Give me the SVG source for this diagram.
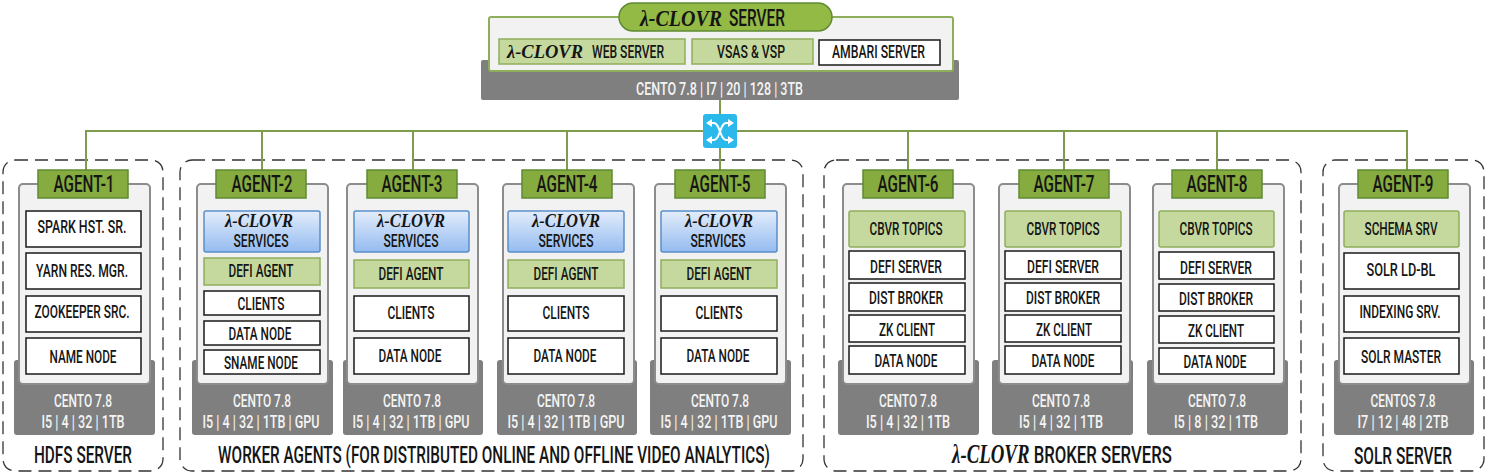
<svg xmlns="http://www.w3.org/2000/svg" width="1486" height="474" viewBox="0 0 1486 474">
<style>
text{font-family:"Roboto","Liberation Sans",sans-serif;font-weight:500;text-anchor:middle;fill:#151515;font-size:18px}
.w{fill:#f4f4f4;font-size:18px}
.h{font-size:23px}
.g{font-size:24px}
.l{font-family:"Liberation Serif","DejaVu Serif",serif;font-style:italic;font-weight:700;font-size:18px}
.base{fill:#7f7f7f}
.card{fill:#f2f2f2;stroke:#8c8c8c;stroke-width:2}
.hdr{fill:#86ab3f;stroke:#5f8a35;stroke-width:1.5}
.box{fill:#fff;stroke:#1a1a1a;stroke-width:1.5}
.grn{fill:#c5d99f;stroke:#8fae5b;stroke-width:1.5}
.blu{fill:url(#bg);stroke:#5b8ec9;stroke-width:1.5}
.frame{fill:#fff;stroke:#333;stroke-width:1.3;stroke-dasharray:13 7}
.link{fill:none;stroke:#7f9b4e;stroke-width:2}
</style>
<defs>
<linearGradient id="bg" x1="0" y1="0" x2="0" y2="1"><stop offset="0" stop-color="#e3edfb"/><stop offset="1" stop-color="#94bbf0"/></linearGradient>
</defs>
<rect width="1486" height="474" fill="#fff"/>
<g id="frames">
<rect class="frame" x="3" y="160" width="160" height="311" rx="12"/>
<rect class="frame" x="180" y="160" width="623" height="311" rx="12"/>
<rect class="frame" x="824" y="160" width="477" height="311" rx="12"/>
<rect class="frame" x="1323" y="160" width="161" height="311" rx="12"/>
<text class="g" transform="translate(83 463) scale(.66 1)" textLength="148.500" lengthAdjust="spacingAndGlyphs">HDFS SERVER</text>
<text class="g" transform="translate(494 463) scale(.66 1)" textLength="836" lengthAdjust="spacingAndGlyphs">WORKER AGENTS (FOR DISTRIBUTED ONLINE AND OFFLINE VIDEO ANALYTICS)</text>
<text class="g" transform="translate(1062 463) scale(.66 1)" textLength="333" lengthAdjust="spacingAndGlyphs"><tspan class="l" style="font-size:27px">λ-CLOVR</tspan> BROKER SERVERS</text>
<text class="g" transform="translate(1403 464) scale(.66 1)" textLength="148.500" lengthAdjust="spacingAndGlyphs">SOLR SERVER</text>
</g>
<g id="connectors">
<path class="link" d="M86 171V131H1407V171M262 131V171M413 131V171M567 131V171M720 100V171M908 131V171M1064 131V171M1217 131V171"/>
</g>
<g id="switch">
<rect x="703" y="114" width="34" height="34" rx="3" fill="#2bb8ea"/>
<path d="M710 123H714C720 123 720 140 726 140H730M710 140H714C720 140 720 123 726 123H730" fill="none" stroke="#fff" stroke-width="2"/>
<path d="M706 123l6-4v8zM734 123l-6-4v8zM706 140l6-4v8zM734 140l-6-4v8z" fill="#fff"/>
</g>
<g id="server">
<rect class="base" x="481" y="60" width="478" height="40" rx="2"/>
<rect class="card" x="489" y="17" width="464" height="54" rx="2" style="stroke:#8fae5b"/>
<rect x="619" y="3" width="213" height="28" rx="14" fill="#93ba45" stroke="#5f8a35" stroke-width="1.5"/>
<text class="l" x="681" y="26" textLength="82" lengthAdjust="spacingAndGlyphs" style="font-size:23px">λ-CLOVR</text>
<text class="h" x="757" y="26" textLength="56" lengthAdjust="spacingAndGlyphs">SERVER</text>
<rect class="grn" x="499" y="39" width="186" height="25"/>
<text class="l" x="545" y="58" textLength="76" lengthAdjust="spacingAndGlyphs" style="font-size:19px">λ-CLOVR</text>
<text x="628" y="58" textLength="72" lengthAdjust="spacingAndGlyphs">WEB SERVER</text>
<rect class="grn" x="692" y="39" width="121" height="25"/>
<text x="751" y="58" textLength="68" lengthAdjust="spacingAndGlyphs">VSAS &amp; VSP</text>
<rect class="box" x="819" y="40" width="121" height="25"/>
<text x="878.500" y="58" textLength="93" lengthAdjust="spacingAndGlyphs">AMBARI SERVER</text>
<text class="w" x="719.500" y="95" textLength="167" lengthAdjust="spacingAndGlyphs">CENTO 7.8 | I7 | 20 | 128 | 3TB</text>
</g>
<g id="agent-1">
<rect class="base" x="14" y="360" width="141" height="75" rx="3"/><rect class="card" x="19" y="184" width="131" height="200" rx="4"/>
<rect class="hdr" x="38" y="170" width="90" height="28"/><text class="h" x="84" y="192" textLength="61" lengthAdjust="spacingAndGlyphs">AGENT-1</text>
<rect class="box" x="26" y="211" width="115" height="36"/><text x="82" y="233" textLength="89" lengthAdjust="spacingAndGlyphs">SPARK HST. SR.</text>
<rect class="box" x="26" y="253" width="115" height="36"/><text x="82" y="277" textLength="92" lengthAdjust="spacingAndGlyphs">YARN RES. MGR.</text>
<rect class="box" x="26" y="296" width="115" height="36"/><text x="82" y="318" textLength="95" lengthAdjust="spacingAndGlyphs">ZOOKEEPER SRC.</text>
<rect class="box" x="26" y="338" width="115" height="36"/><text x="83" y="363" textLength="67" lengthAdjust="spacingAndGlyphs">NAME NODE</text>
<text class="w" x="83" y="407" textLength="58" lengthAdjust="spacingAndGlyphs">CENTO 7.8</text><text class="w" x="83" y="428" textLength="83" lengthAdjust="spacingAndGlyphs">I5 | 4 | 32 | 1TB</text>
</g>
<g id="agent-2">
<rect class="base" x="192" y="360" width="141" height="75" rx="3"/><rect class="card" x="197" y="184" width="131" height="200" rx="4"/>
<rect class="hdr" x="216" y="170" width="90" height="28"/><text class="h" x="262" y="192" textLength="61" lengthAdjust="spacingAndGlyphs">AGENT-2</text>
<rect class="blu" x="204" y="211" width="116" height="41" rx="2"/><text class="l" x="259" y="227" textLength="68" lengthAdjust="spacingAndGlyphs">λ-CLOVR</text><text x="261" y="247" textLength="55" lengthAdjust="spacingAndGlyphs">SERVICES</text>
<rect class="grn" x="204" y="258" width="116" height="27"/><text x="261" y="277" textLength="65" lengthAdjust="spacingAndGlyphs">DEFI AGENT</text>
<rect class="box" x="204" y="291" width="116" height="24"/><text x="261" y="310" textLength="47" lengthAdjust="spacingAndGlyphs">CLIENTS</text>
<rect class="box" x="204" y="321" width="116" height="24"/><text x="260" y="340" textLength="63" lengthAdjust="spacingAndGlyphs">DATA NODE</text>
<rect class="box" x="204" y="350" width="116" height="24"/><text x="261" y="369" textLength="74" lengthAdjust="spacingAndGlyphs">SNAME NODE</text>
<text class="w" x="262" y="407" textLength="58" lengthAdjust="spacingAndGlyphs">CENTO 7.8</text><text class="w" transform="translate(261 428) scale(.7 1)" textLength="167" lengthAdjust="spacingAndGlyphs">I5 | 4 | 32 | 1TB | GPU</text>
</g>
<g id="agent-3">
<rect class="base" x="343" y="360" width="140" height="75" rx="3"/><rect class="card" x="347" y="184" width="131" height="200" rx="4"/>
<rect class="hdr" x="367" y="170" width="90" height="28"/><text class="h" x="412" y="192" textLength="61" lengthAdjust="spacingAndGlyphs">AGENT-3</text>
<rect class="blu" x="354" y="211" width="115" height="41" rx="2"/><text class="l" x="411" y="227" textLength="68" lengthAdjust="spacingAndGlyphs">λ-CLOVR</text><text x="411" y="247" textLength="55" lengthAdjust="spacingAndGlyphs">SERVICES</text>
<rect class="grn" x="354" y="260" width="115" height="28"/><text x="411" y="280" textLength="65" lengthAdjust="spacingAndGlyphs">DEFI AGENT</text>
<rect class="box" x="354" y="296" width="115" height="35"/><text x="411" y="319" textLength="47" lengthAdjust="spacingAndGlyphs">CLIENTS</text>
<rect class="box" x="354" y="338" width="115" height="36"/><text x="410" y="362" textLength="63" lengthAdjust="spacingAndGlyphs">DATA NODE</text>
<text class="w" x="412" y="407" textLength="58" lengthAdjust="spacingAndGlyphs">CENTO 7.8</text><text class="w" transform="translate(411 428) scale(.7 1)" textLength="167" lengthAdjust="spacingAndGlyphs">I5 | 4 | 32 | 1TB | GPU</text>
</g>
<g id="agent-4">
<rect class="base" x="497" y="360" width="140" height="75" rx="3"/><rect class="card" x="503" y="184" width="131" height="200" rx="4"/>
<rect class="hdr" x="522" y="170" width="90" height="28"/><text class="h" x="567" y="192" textLength="61" lengthAdjust="spacingAndGlyphs">AGENT-4</text>
<rect class="blu" x="508" y="211" width="116" height="41" rx="2"/><text class="l" x="566" y="227" textLength="68" lengthAdjust="spacingAndGlyphs">λ-CLOVR</text><text x="566" y="247" textLength="55" lengthAdjust="spacingAndGlyphs">SERVICES</text>
<rect class="grn" x="508" y="260" width="116" height="28"/><text x="566" y="280" textLength="65" lengthAdjust="spacingAndGlyphs">DEFI AGENT</text>
<rect class="box" x="508" y="296" width="116" height="35"/><text x="566" y="319" textLength="47" lengthAdjust="spacingAndGlyphs">CLIENTS</text>
<rect class="box" x="508" y="338" width="116" height="36"/><text x="565" y="362" textLength="63" lengthAdjust="spacingAndGlyphs">DATA NODE</text>
<text class="w" x="566" y="407" textLength="58" lengthAdjust="spacingAndGlyphs">CENTO 7.8</text><text class="w" transform="translate(566 428) scale(.7 1)" textLength="167" lengthAdjust="spacingAndGlyphs">I5 | 4 | 32 | 1TB | GPU</text>
</g>
<g id="agent-5">
<rect class="base" x="650" y="360" width="141" height="75" rx="3"/><rect class="card" x="655" y="184" width="131" height="200" rx="4"/>
<rect class="hdr" x="675" y="170" width="90" height="28"/><text class="h" x="720" y="192" textLength="61" lengthAdjust="spacingAndGlyphs">AGENT-5</text>
<rect class="blu" x="661" y="211" width="116" height="41" rx="2"/><text class="l" x="719" y="227" textLength="68" lengthAdjust="spacingAndGlyphs">λ-CLOVR</text><text x="718" y="247" textLength="55" lengthAdjust="spacingAndGlyphs">SERVICES</text>
<rect class="grn" x="661" y="260" width="116" height="28"/><text x="719" y="280" textLength="65" lengthAdjust="spacingAndGlyphs">DEFI AGENT</text>
<rect class="box" x="661" y="296" width="116" height="35"/><text x="719" y="319" textLength="47" lengthAdjust="spacingAndGlyphs">CLIENTS</text>
<rect class="box" x="661" y="338" width="116" height="36"/><text x="718" y="362" textLength="63" lengthAdjust="spacingAndGlyphs">DATA NODE</text>
<text class="w" x="720" y="407" textLength="58" lengthAdjust="spacingAndGlyphs">CENTO 7.8</text><text class="w" transform="translate(719 428) scale(.7 1)" textLength="167" lengthAdjust="spacingAndGlyphs">I5 | 4 | 32 | 1TB | GPU</text>
</g>
<g id="agent-6">
<rect class="base" x="838" y="360" width="141" height="75" rx="3"/><rect class="card" x="843" y="184" width="131" height="200" rx="4"/>
<rect class="hdr" x="863" y="170" width="90" height="28"/><text class="h" x="908" y="192" textLength="61" lengthAdjust="spacingAndGlyphs">AGENT-6</text>
<rect class="grn" x="849" y="211" width="116" height="36" rx="2"/><text x="906" y="235" textLength="73" lengthAdjust="spacingAndGlyphs">CBVR TOPICS</text>
<rect class="box" x="849" y="251" width="116" height="28"/><text x="906" y="273" textLength="72" lengthAdjust="spacingAndGlyphs">DEFI SERVER</text>
<rect class="box" x="849" y="283" width="116" height="28"/><text x="906" y="304" textLength="74" lengthAdjust="spacingAndGlyphs">DIST BROKER</text>
<rect class="box" x="849" y="315" width="116" height="27"/><text x="907" y="336" textLength="56" lengthAdjust="spacingAndGlyphs">ZK CLIENT</text>
<rect class="box" x="849" y="346" width="116" height="28"/><text x="906" y="367" textLength="63" lengthAdjust="spacingAndGlyphs">DATA NODE</text>
<text class="w" x="908" y="407" textLength="58" lengthAdjust="spacingAndGlyphs">CENTO 7.8</text><text class="w" x="908" y="428" textLength="84" lengthAdjust="spacingAndGlyphs">I5 | 4 | 32 | 1TB</text>
</g>
<g id="agent-7">
<rect class="base" x="992" y="360" width="141" height="75" rx="3"/><rect class="card" x="999" y="184" width="131" height="200" rx="4"/>
<rect class="hdr" x="1019" y="170" width="90" height="28"/><text class="h" x="1064" y="192" textLength="61" lengthAdjust="spacingAndGlyphs">AGENT-7</text>
<rect class="grn" x="1005" y="211" width="116" height="36" rx="2"/><text x="1063" y="235" textLength="73" lengthAdjust="spacingAndGlyphs">CBVR TOPICS</text>
<rect class="box" x="1005" y="251" width="116" height="28"/><text x="1063" y="273" textLength="72" lengthAdjust="spacingAndGlyphs">DEFI SERVER</text>
<rect class="box" x="1005" y="283" width="116" height="28"/><text x="1063" y="304" textLength="74" lengthAdjust="spacingAndGlyphs">DIST BROKER</text>
<rect class="box" x="1005" y="315" width="116" height="27"/><text x="1064" y="336" textLength="56" lengthAdjust="spacingAndGlyphs">ZK CLIENT</text>
<rect class="box" x="1005" y="346" width="116" height="28"/><text x="1063" y="367" textLength="63" lengthAdjust="spacingAndGlyphs">DATA NODE</text>
<text class="w" x="1061" y="407" textLength="58" lengthAdjust="spacingAndGlyphs">CENTO 7.8</text><text class="w" x="1061" y="428" textLength="84" lengthAdjust="spacingAndGlyphs">I5 | 4 | 32 | 1TB</text>
</g>
<g id="agent-8">
<rect class="base" x="1147" y="360" width="141" height="75" rx="3"/><rect class="card" x="1153" y="184" width="131" height="200" rx="4"/>
<rect class="hdr" x="1172" y="170" width="90" height="28"/><text class="h" x="1217" y="192" textLength="61" lengthAdjust="spacingAndGlyphs">AGENT-8</text>
<rect class="grn" x="1159" y="211" width="115" height="36" rx="2"/><text x="1216" y="235" textLength="73" lengthAdjust="spacingAndGlyphs">CBVR TOPICS</text>
<rect class="box" x="1159" y="252" width="115" height="27"/><text x="1216" y="274" textLength="72" lengthAdjust="spacingAndGlyphs">DEFI SERVER</text>
<rect class="box" x="1159" y="284" width="115" height="27"/><text x="1216" y="305" textLength="74" lengthAdjust="spacingAndGlyphs">DIST BROKER</text>
<rect class="box" x="1159" y="316" width="115" height="27"/><text x="1216" y="337" textLength="56" lengthAdjust="spacingAndGlyphs">ZK CLIENT</text>
<rect class="box" x="1159" y="348" width="115" height="26"/><text x="1215" y="368" textLength="63" lengthAdjust="spacingAndGlyphs">DATA NODE</text>
<text class="w" x="1217" y="407" textLength="58" lengthAdjust="spacingAndGlyphs">CENTO 7.8</text><text class="w" x="1216" y="428" textLength="84" lengthAdjust="spacingAndGlyphs">I5 | 8 | 32 | 1TB</text>
</g>
<g id="agent-9">
<rect class="base" x="1334" y="360" width="140" height="75" rx="3"/><rect class="card" x="1339" y="184" width="131" height="200" rx="4"/>
<rect class="hdr" x="1358" y="170" width="90" height="28"/><text class="h" x="1403" y="192" textLength="61" lengthAdjust="spacingAndGlyphs">AGENT-9</text>
<rect class="grn" x="1344" y="211" width="115" height="36" rx="2"/><text x="1401" y="235" textLength="73" lengthAdjust="spacingAndGlyphs">SCHEMA SRV</text>
<rect class="box" x="1344" y="253" width="115" height="36"/><text x="1401" y="276" textLength="69" lengthAdjust="spacingAndGlyphs">SOLR LD-BL</text>
<rect class="box" x="1344" y="296" width="115" height="36"/><text x="1400" y="318" textLength="81" lengthAdjust="spacingAndGlyphs">INDEXING SRV.</text>
<rect class="box" x="1344" y="338" width="115" height="36"/><text x="1401" y="363" textLength="80" lengthAdjust="spacingAndGlyphs">SOLR MASTER</text>
<text class="w" x="1403" y="407" textLength="65" lengthAdjust="spacingAndGlyphs">CENTOS 7.8</text><text class="w" x="1403" y="428" textLength="91" lengthAdjust="spacingAndGlyphs">I7 | 12 | 48 | 2TB</text>
</g>
</svg>
